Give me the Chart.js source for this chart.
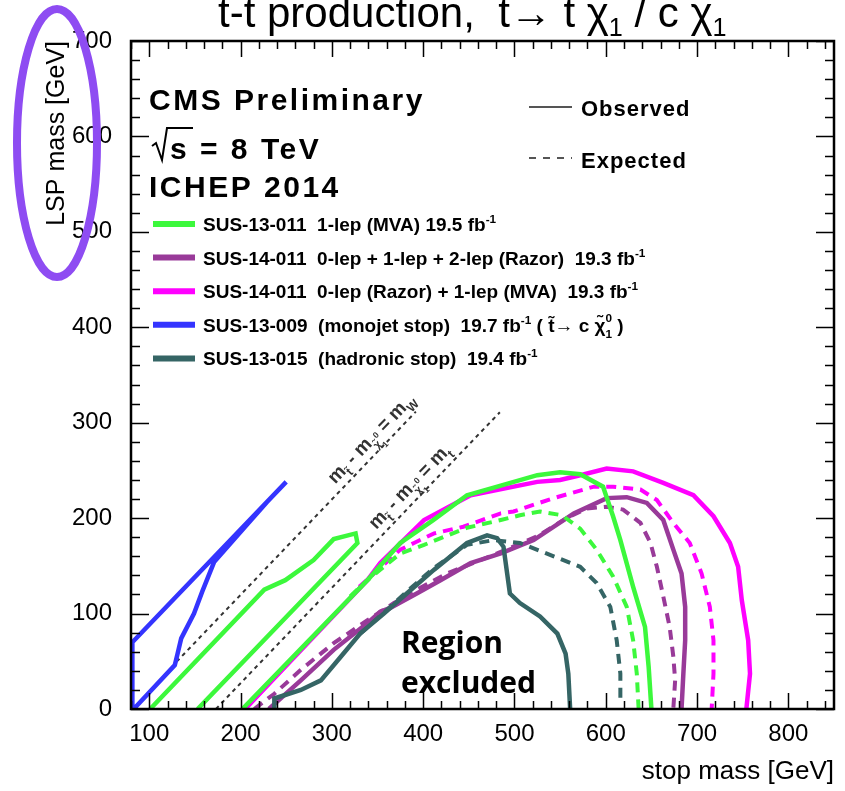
<!DOCTYPE html>
<html>
<head>
<meta charset="utf-8">
<script src="https://cdn.jsdelivr.net/npm/chart.js@4.4.0/dist/chart.umd.min.js"></script>
<style>
  html, body { margin: 0; padding: 0; background: #fff; }
  #wrap { width: 845px; height: 791px; }
</style>
</head>
<body>
<div id="wrap"><canvas id="limits" width="845" height="791"></canvas></div>
<script>
// exclusion contours, [stop mass, LSP mass] in GeV
const sus13011StripObs = [[101,0],[226,125],[249,135],[280,156],[302,178],[326,184],[328,174],[153,0]];
const sus13011Obs = [[202,0],[339,135],[375,174],[411,198],[448,224],[485,234],[525,245],[550,248],[572,246],[597,233],[608,202],[616,177],[630,128],[643,86],[647,44],[650,0]];
const sus13011Exp = [[320,118],[339,135],[353,146],[375,163],[401,172],[448,190],[485,198],[506,203],[528,207],[552,203],[572,189],[590,167],[608,139],[623,107],[630,72],[634,37],[636,0]];

const razorMvaObs = [[205,0],[339,135],[353,153],[401,198],[452,224],[525,238],[550,240],[572,245],[601,252],[630,249],[663,237],[696,224],[718,202],[736,174],[745,149],[749,114],[756,72],[758,37],[754,0]];
const razorMvaExp = [[330,128],[375,167],[390,174],[412,184],[444,191],[485,205],[499,207],[543,221],[587,233],[608,233],[638,230],[656,219],[674,195],[692,174],[705,142],[714,107],[718,72],[718,37],[716,0]];

const razorObs = [[231,0],[266,30],[302,62],[339,90],[353,102],[364,106],[393,121],[419,135],[452,153],[485,163],[521,177],[565,205],[601,221],[623,222],[645,216],[663,198],[674,167],[683,142],[687,107],[687,72],[685,37],[683,0]];
const razorExp = [[215,0],[237,16],[266,41],[302,69],[339,93],[368,111],[393,125],[426,142],[481,163],[525,181],[557,200],[579,210],[601,212],[619,209],[638,195],[649,174],[656,149],[663,118],[670,86],[674,55],[676,30],[674,0]];

const monojetObs = [[81.5,0],[81.5,70],[250,238],[229,217],[205,191],[171,154],[158,123],[149,100],[135,74],[131,58],[128,46],[83,0]];

const hadronicObs = [[237,0],[237,11],[266,20],[288,30],[310,55],[331,79],[357,100],[382,121],[412,146],[448,174],[470,182],[481,179],[488,170],[492,142],[495,121],[506,111],[528,97],[547,79],[556,58],[559,37],[561,0]];
const hadronicExp = [[330,78],[357,101],[382,123],[412,148],[448,172],[477,177],[506,174],[543,160],[572,149],[590,132],[605,107],[612,72],[616,37],[616,10]];

// kinematic boundaries m(stop) - m(LSP) = m(W) and = m(top)
const mwLine = [[130,49.6],[392,311.6]];
const mtLine = [[173,0],[484,311]];

const xTicks = [100, 200, 300, 400, 500, 600, 700, 800];
const yTicks = [0, 100, 200, 300, 400, 500, 600, 700];

const colGreen = '#3cf83c', colPurple = '#993a99', colMagenta = '#ff00ff', colBlue = '#3434ff', colTeal = '#356565';

const legendRows = [
  { color: colGreen, text: [{t: 'SUS-13-011  1-lep (MVA) 19.5 fb'}, {t: '-1', s: 0.62, dy: -0.42}] },
  { color: colPurple, text: [{t: 'SUS-14-011  0-lep + 1-lep + 2-lep (Razor)  19.3 fb'}, {t: '-1', s: 0.62, dy: -0.42}] },
  { color: colMagenta, text: [{t: 'SUS-14-011  0-lep (Razor) + 1-lep (MVA)  19.3 fb'}, {t: '-1', s: 0.62, dy: -0.42}] },
  { color: colBlue, text: [{t: 'SUS-13-009  (monojet stop)  19.7 fb'}, {t: '-1', s: 0.62, dy: -0.42},
      {t: ' ( t\u0303\u2192 c \u03c7\u0303'}, {t: '0', s: 0.62, dy: -0.5, keep: true}, {t: '1', s: 0.62, dy: 0.35}, {t: ' )'}] },
  { color: colTeal, text: [{t: 'SUS-13-015  (hadronic stop)  19.4 fb'}, {t: '-1', s: 0.62, dy: -0.42}] }
];

const toXY = arr => arr.map(p => ({x: p[0], y: p[1]}));

function contour(pts, color, dashed) {
  return {
    data: toXY(pts),
    showLine: true,
    borderColor: color,
    borderWidth: dashed ? 4 : 4.5,
    borderDash: dashed ? [10, 7] : [],
    pointRadius: 0,
    tension: 0,
    clip: 0
  };
}

function guide(pts) {
  return { data: toXY(pts), showLine: true, borderColor: '#333', borderWidth: 2,
           borderDash: [4, 4], pointRadius: 0, clip: 0 };
}

// small rich-text writer: segments with relative size, vertical shift, stacking
function rich(ctx, x, y, segs, size, weight, family, measureOnly) {
  let cx = x, held = 0;
  segs.forEach(sg => {
    const fs = size * (sg.s || 1);
    ctx.font = weight + ' ' + fs + 'px ' + family;
    const w = ctx.measureText(sg.t).width;
    if (!measureOnly) ctx.fillText(sg.t, cx, y + (sg.dy || 0) * size);
    if (sg.keep) { held = w; }
    else { cx += Math.max(w, held); held = 0; }
  });
  return cx - x;
}

const SANS = '"Liberation Sans", Arial, sans-serif';

const framePlugin = {
  id: 'frame',
  afterDatasetsDraw(chart) {
    const {ctx, chartArea: a, scales: {x, y}} = chart;
    ctx.save();
    ctx.strokeStyle = '#000';
    ctx.lineWidth = 1.5;
    ctx.beginPath();
    for (let v = 80; v <= 850; v += 20) {
      const px = Math.round(x.getPixelForValue(v)) + 0.5;
      const len = v % 100 === 0 ? 16 : 8;
      ctx.moveTo(px, a.bottom); ctx.lineTo(px, a.bottom - len);
      ctx.moveTo(px, a.top); ctx.lineTo(px, a.top + len);
    }
    for (let v = 0; v <= 700; v += 20) {
      const py = Math.round(y.getPixelForValue(v)) + 0.5;
      const len = v % 100 === 0 ? 18 : 9;
      ctx.moveTo(a.left, py); ctx.lineTo(a.left + len, py);
      ctx.moveTo(a.right, py); ctx.lineTo(a.right - len, py);
    }
    ctx.stroke();
    ctx.lineWidth = 2.5;
    ctx.strokeRect(a.left, a.top, a.right - a.left, a.bottom - a.top);
    ctx.restore();
  }
};

const textPlugin = {
  id: 'texts',
  afterDraw(chart) {
    const {ctx, scales: {x, y}} = chart;
    ctx.save();
    ctx.fillStyle = '#000';
    ctx.textBaseline = 'alphabetic';
    ctx.textAlign = 'left';

    // title, partly above the canvas edge
    rich(ctx, 218, 27, [
      {t: 't\u0303-t\u0303 production,  t\u0303\u2192 t \u03c7'}, {t: '0', s: 0.6, dy: -0.95, keep: true}, {t: '1', s: 0.6, dy: 0.22},
      {t: ' / c \u03c7'}, {t: '0', s: 0.6, dy: -0.95, keep: true}, {t: '1', s: 0.6, dy: 0.22}
    ], 42, '', SANS);

    ctx.letterSpacing = '2.5px';
    ctx.font = 'bold 30px ' + SANS;
    ctx.fillText('CMS Preliminary', 149, 110);
    ctx.fillText('ICHEP 2014', 149, 197);
    ctx.fillText('s = 8 TeV', 170, 159);
    ctx.letterSpacing = '0px';
    // square root sign
    ctx.lineWidth = 2;
    ctx.beginPath();
    ctx.moveTo(152, 146); ctx.lineTo(156, 143); ctx.lineTo(162, 160); ctx.lineTo(167, 128); ctx.lineTo(193, 128);
    ctx.stroke();

    // observed / expected key
    ctx.strokeStyle = '#555';
    ctx.lineWidth = 2;
    ctx.beginPath(); ctx.moveTo(529, 107); ctx.lineTo(572, 107); ctx.stroke();
    ctx.setLineDash([7, 7]);
    ctx.beginPath(); ctx.moveTo(529, 158); ctx.lineTo(572, 158); ctx.stroke();
    ctx.setLineDash([]);
    ctx.letterSpacing = '1px';
    ctx.font = 'bold 22px ' + SANS;
    ctx.fillText('Observed', 581, 116);
    ctx.fillText('Expected', 581, 168);
    ctx.letterSpacing = '0px';

    // analysis legend
    legendRows.forEach((row, i) => {
      const ly = 224 + i * 33.6;
      ctx.strokeStyle = row.color;
      ctx.lineWidth = 6;
      ctx.beginPath(); ctx.moveTo(153, ly); ctx.lineTo(195, ly); ctx.stroke();
      rich(ctx, 203, ly + 7, row.text, 19, 'bold', SANS);
    });

    // labels along the kinematic lines
    const guideLabel = (line, at, segs) => {
      const p0 = [x.getPixelForValue(line[0][0]), y.getPixelForValue(line[0][1])];
      const p1 = [x.getPixelForValue(line[1][0]), y.getPixelForValue(line[1][1])];
      const ang = Math.atan2(p1[1] - p0[1], p1[0] - p0[0]);
      const slope = (line[1][1] - line[0][1]) / (line[1][0] - line[0][0]);
      const ax = x.getPixelForValue(at), ay = y.getPixelForValue(line[0][1] + (at - line[0][0]) * slope);
      const w = rich(ctx, 0, 0, segs, 19, 'bold', SANS, true);
      ctx.save();
      ctx.translate(ax, ay);
      ctx.rotate(ang);
      rich(ctx, -w / 2, -8, segs, 19, 'bold', SANS);
      ctx.restore();
    };
    ctx.fillStyle = '#333';
    guideLabel(mwLine, 354, [{t: 'm'}, {t: 't\u0303', s: 0.65, dy: 0.3}, {t: ' - m'}, {t: '\u03c7\u0303', s: 0.6, dy: 0.35},
      {t: '0', s: 0.45, dy: -0.1, keep: true}, {t: '1', s: 0.45, dy: 0.6}, {t: ' = m'}, {t: 'W', s: 0.65, dy: 0.3}]);
    guideLabel(mtLine, 396, [{t: 'm'}, {t: 't\u0303', s: 0.65, dy: 0.3}, {t: ' - m'}, {t: '\u03c7\u0303', s: 0.6, dy: 0.35},
      {t: '0', s: 0.45, dy: -0.1, keep: true}, {t: '1', s: 0.45, dy: 0.6}, {t: ' = m'}, {t: 't', s: 0.65, dy: 0.3}]);

    ctx.fillStyle = '#000';
    ctx.font = 'bold 30px "Open Sans", Lato, sans-serif';
    ctx.fillText('Region', 401, 653);
    ctx.fillText('excluded', 401, 693);

    // highlight ring around the vertical axis title
    ctx.strokeStyle = '#8e4cf2';
    ctx.lineWidth = 8;
    ctx.beginPath();
    ctx.ellipse(57, 143, 40, 134, 0, 0, Math.PI * 2);
    ctx.stroke();
    ctx.restore();
  }
};

new Chart(document.getElementById('limits'), {
  type: 'scatter',
  data: {
    datasets: [
      contour(monojetObs, colBlue, false),
      contour(sus13011StripObs, colGreen, false),
      contour(sus13011Obs, colGreen, false),
      contour(hadronicObs, colTeal, false),
      contour(sus13011Exp, colGreen, true),
      contour(hadronicExp, colTeal, true),
      contour(razorObs, colPurple, false),
      contour(razorMvaObs, colMagenta, false),
      contour(razorExp, colPurple, true),
      contour(razorMvaExp, colMagenta, true),
      guide(mwLine),
      guide(mtLine)
    ]
  },
  options: {
    responsive: false,
    animation: false,
    devicePixelRatio: 1,
    layout: { padding: { top: 41, right: 11, left: 0, bottom: 0 } },
    plugins: { legend: { display: false }, tooltip: { enabled: false } },
    scales: {
      x: {
        type: 'linear', min: 80, max: 850,
        grid: { display: false }, border: { display: false },
        afterBuildTicks: s => { s.ticks = xTicks.map(v => ({value: v})); },
        afterFit: s => { s.height = 82; },
        ticks: { font: { family: SANS, size: 24 }, color: '#000', padding: 3, maxRotation: 0, autoSkip: false },
        title: { display: true, text: 'stop mass [GeV]', align: 'end', color: '#000',
                 font: { family: SANS, size: 26 }, padding: { top: 0, bottom: 4 } }
      },
      y: {
        type: 'linear', min: 0, max: 700,
        grid: { display: false }, border: { display: false },
        afterBuildTicks: s => { s.ticks = yTicks.map(v => ({value: v})); },
        afterFit: s => { s.width = 131; },
        ticks: { font: { family: SANS, size: 24 }, color: '#000', padding: 11, autoSkip: false },
        title: { display: true, text: 'LSP mass [GeV]', align: 'end', color: '#000',
                 font: { family: SANS, size: 25 }, padding: { top: 42, bottom: 0 } }
      }
    }
  },
  plugins: [framePlugin, textPlugin]
});
</script>
</body>
</html>
